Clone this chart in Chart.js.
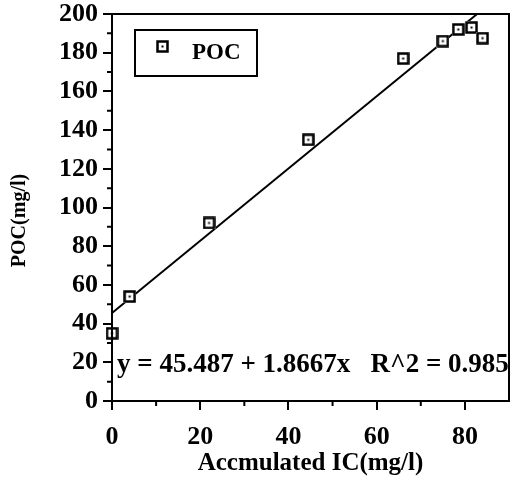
<!DOCTYPE html>
<html>
<head>
<meta charset="utf-8">
<script src="https://cdn.jsdelivr.net/npm/chart.js@4.4.0/dist/chart.umd.min.js"></script>
<style>
  html, body { margin: 0; padding: 0; background: #fff; }
  #wrap { width: 511px; height: 484px; }
</style>
</head>
<body>
<div id="wrap"><canvas id="chart"></canvas></div>
<script>
// data
const icValues = [0, 4, 22, 44.5, 66, 75, 78.5, 81.5, 84];
const pocValues = [35, 54, 92, 135, 177, 186, 192, 193, 187.5];
const xTicks = [0, 20, 40, 60, 80];
const xMinor = [10, 30, 50, 70];
const yTicks = [0, 20, 40, 60, 80, 100, 120, 140, 160, 180, 200];
const yMinor = [10, 30, 50, 70, 90, 110, 130, 150, 170, 190];
const fitIntercept = 45.487;
const fitSlope = 1.8667;
const fitR2 = 0.985;
const xMax = 90;
const yMax = 200;
const yTitle = "POC(mg/l)";

const serif = '"Liberation Serif", "Times New Roman", serif';

// fit line from x=0 until it leaves the top of the plot
const fitEnd = (yMax - fitIntercept) / fitSlope;
const fitLine = [
  { x: 0, y: fitIntercept },
  { x: fitEnd, y: fitIntercept + fitSlope * fitEnd }
];

function makeMarker() {
  const c = document.createElement("canvas");
  c.width = 13;
  c.height = 13;
  const g = c.getContext("2d");
  g.fillStyle = "#fff";
  g.fillRect(0, 0, 13, 13);
  g.strokeStyle = "#000";
  g.lineWidth = 2.5;
  g.strokeRect(1.5, 1.5, 10, 10);
  g.fillStyle = "#000";
  g.fillRect(5.5, 5.5, 2, 2);
  return c;
}
const marker = makeMarker();

const decor = {
  id: "decor",
  afterDraw(chart) {
    const { ctx, chartArea: a, scales } = chart;
    const x = scales.x, y = scales.y;
    ctx.save();
    ctx.strokeStyle = "#000";
    ctx.lineWidth = 2;
    ctx.strokeRect(a.left, a.top, a.right - a.left, a.bottom - a.top);

    // minor ticks
    ctx.beginPath();
    xMinor.forEach(v => {
      const px = x.getPixelForValue(v);
      ctx.moveTo(px, a.bottom);
      ctx.lineTo(px, a.bottom + 5);
    });
    yMinor.forEach(v => {
      const py = y.getPixelForValue(v);
      ctx.moveTo(a.left, py);
      ctx.lineTo(a.left - 5, py);
    });
    ctx.stroke();

    // legend box
    const lx = a.left + 23, ly = a.top + 16, lw = 122, lh = 46;
    ctx.strokeRect(lx, ly, lw, lh);
    ctx.drawImage(marker, lx + 21, ly + 10);
    ctx.fillStyle = "#000";
    ctx.font = "bold 23px " + serif;
    ctx.textBaseline = "middle";
    ctx.textAlign = "left";
    ctx.fillText(chart.data.datasets[0].label, lx + 57, ly + lh / 2);

    // fit equation
    ctx.font = "bold 27px " + serif;
    const eq = "y = " + fitIntercept + " + " + fitSlope + "x   R^2 = " + fitR2;
    ctx.fillText(eq, a.left + 5, a.bottom - 36);

    // y axis title, sits a little below the middle of the axis
    ctx.translate(20, (a.top + a.bottom) / 2 + 13);
    ctx.rotate(-Math.PI / 2);
    ctx.textAlign = "center";
    ctx.font = "bold 20px " + serif;
    ctx.fillText(yTitle, 0, 0);
    ctx.restore();
  }
};

new Chart(document.getElementById("chart"), {
  type: "scatter",
  data: {
    datasets: [
      {
        label: "POC",
        data: icValues.map((v, i) => ({ x: v, y: pocValues[i] })),
        pointStyle: marker,
        pointRadius: 6,
        showLine: false,
        clip: false
      },
      {
        label: "fit",
        type: "line",
        data: fitLine,
        borderColor: "#000",
        borderWidth: 2,
        pointRadius: 0,
        fill: false
      }
    ]
  },
  options: {
    responsive: true,
    maintainAspectRatio: false,
    animation: false,
    layout: { autoPadding: false, padding: { top: 14, right: 2, left: 0, bottom: 0 } },
    plugins: {
      legend: { display: false },
      tooltip: { enabled: false }
    },
    scales: {
      x: {
        type: "linear",
        min: 0,
        max: xMax,
        afterBuildTicks: s => { s.ticks = xTicks.map(v => ({ value: v })); },
        afterFit: s => { s.height = 83; s.paddingLeft = 0; s.paddingRight = 0; },
        grid: { drawOnChartArea: false, color: "#000", lineWidth: 2, tickLength: 9 },
        border: { color: "#000", width: 2 },
        ticks: {
          color: "#000",
          padding: 12,
          maxRotation: 0,
          font: { family: serif, size: 26, weight: "bold" }
        },
        title: {
          display: true,
          text: "Accmulated IC(mg/l)",
          color: "#000",
          padding: { top: 0, bottom: 5 },
          font: { family: serif, size: 25, weight: "bold" }
        }
      },
      y: {
        min: 0,
        max: yMax,
        afterBuildTicks: s => { s.ticks = yTicks.map(v => ({ value: v })); },
        afterFit: s => { s.width = 112; s.paddingTop = 0; s.paddingBottom = 0; },
        grid: { drawOnChartArea: false, color: "#000", lineWidth: 2, tickLength: 9 },
        border: { color: "#000", width: 2 },
        ticks: {
          color: "#000",
          padding: 5,
          font: { family: serif, size: 26, weight: "bold" }
        }
      }
    }
  },
  plugins: [decor]
});
</script>
</body>
</html>
